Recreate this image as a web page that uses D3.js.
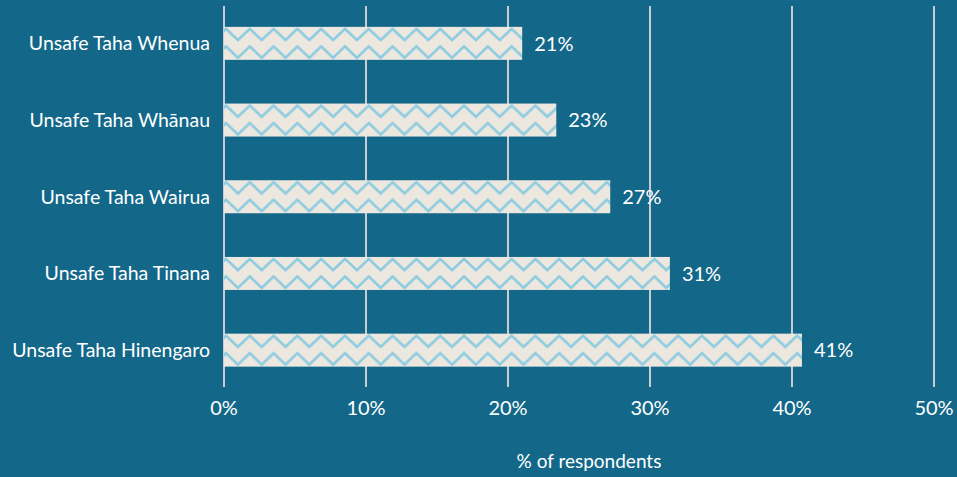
<!DOCTYPE html>
<html>
<head>
<meta charset="utf-8">
<script src="https://cdn.jsdelivr.net/npm/d3@7"></script>
<style>
  html, body { margin: 0; padding: 0; background: #136789; }
  svg { display: block; }
  text { font-family: Lato, "Open Sans", sans-serif; fill: #ffffff; }
</style>
</head>
<body>
<svg id="chart" width="957" height="477"></svg>
<script>
// Share of respondents reporting feeling unsafe, by dimension of wellbeing
const categories = [
  "Unsafe Taha Whenua",
  "Unsafe Taha Whānau",
  "Unsafe Taha Wairua",
  "Unsafe Taha Tinana",
  "Unsafe Taha Hinengaro"
];
const values = [21.0, 23.4, 27.2, 31.4, 40.7];
const xTicks = [0, 10, 20, 30, 40, 50];
const xTitle = "% of respondents";

const W = 957, H = 477;
const svg = d3.select("#chart");

const x = d3.scaleLinear().domain([0, 50]).range([224, 934]);
const y = d3.scaleBand()
  .domain(categories)
  .range([5, 388.5])
  .paddingInner(0.57)
  .paddingOuter(0.285);

const data = categories.map((c, i) => ({ cat: c, value: values[i], i }));

// zigzag fill patterns, one per bar so the waves line up with each bar's top edge
const defs = svg.append("defs");
const period = 23.8;
const bw = y.bandwidth();
data.forEach(d => {
  const p = defs.append("pattern")
    .attr("id", "zig" + d.i)
    .attr("patternUnits", "userSpaceOnUse")
    .attr("x", x(0) + 2)
    .attr("y", y(d.cat))
    .attr("width", period)
    .attr("height", bw);
  p.append("rect").attr("width", period).attr("height", bw).attr("fill", "#ede8df");
  const h = period / 2;
  [[0.06, 0.40], [0.59, 0.94]].forEach(([top, bot]) => {
    const a = top * bw, b = bot * bw;
    p.append("path")
      .attr("d", `M${-h},${b}L0,${a}L${h},${b}L${period},${a}L${period + h},${b}`)
      .attr("fill", "none")
      .attr("stroke", "#8ccbe0")
      .attr("stroke-width", 2.6);
  });
});

// vertical gridlines
svg.append("g")
  .selectAll("line")
  .data(xTicks)
  .join("line")
  .attr("x1", d => x(d)).attr("x2", d => x(d))
  .attr("y1", 6).attr("y2", 387)
  .attr("stroke", "#c9cccf")
  .attr("stroke-width", 2);

// bars
svg.append("g")
  .selectAll("rect")
  .data(data)
  .join("rect")
  .attr("x", x(0))
  .attr("y", d => y(d.cat))
  .attr("width", d => x(d.value) - x(0))
  .attr("height", bw)
  .attr("fill", d => `url(#zig${d.i})`);

// value labels
svg.append("g")
  .selectAll("text")
  .data(data)
  .join("text")
  .attr("x", d => x(d.value) + 12)
  .attr("y", d => y(d.cat) + bw / 2)
  .attr("dy", "0.36em")
  .style("font-size", "20px")
  .text(d => Math.round(d.value) + "%");

// category labels
svg.append("g")
  .selectAll("text")
  .data(data)
  .join("text")
  .attr("x", 210)
  .attr("y", d => y(d.cat) + bw / 2)
  .attr("dy", "0.36em")
  .attr("text-anchor", "end")
  .style("font-size", "19.5px")
  .text(d => d.cat);

// x tick labels
svg.append("g")
  .selectAll("text")
  .data(xTicks)
  .join("text")
  .attr("x", d => x(d))
  .attr("y", 415)
  .attr("text-anchor", "middle")
  .style("font-size", "20px")
  .text(d => d + "%");

// axis title
svg.append("text")
  .attr("x", 589)
  .attr("y", 468)
  .attr("text-anchor", "middle")
  .style("font-size", "19px")
  .text(xTitle);
</script>
</body>
</html>
